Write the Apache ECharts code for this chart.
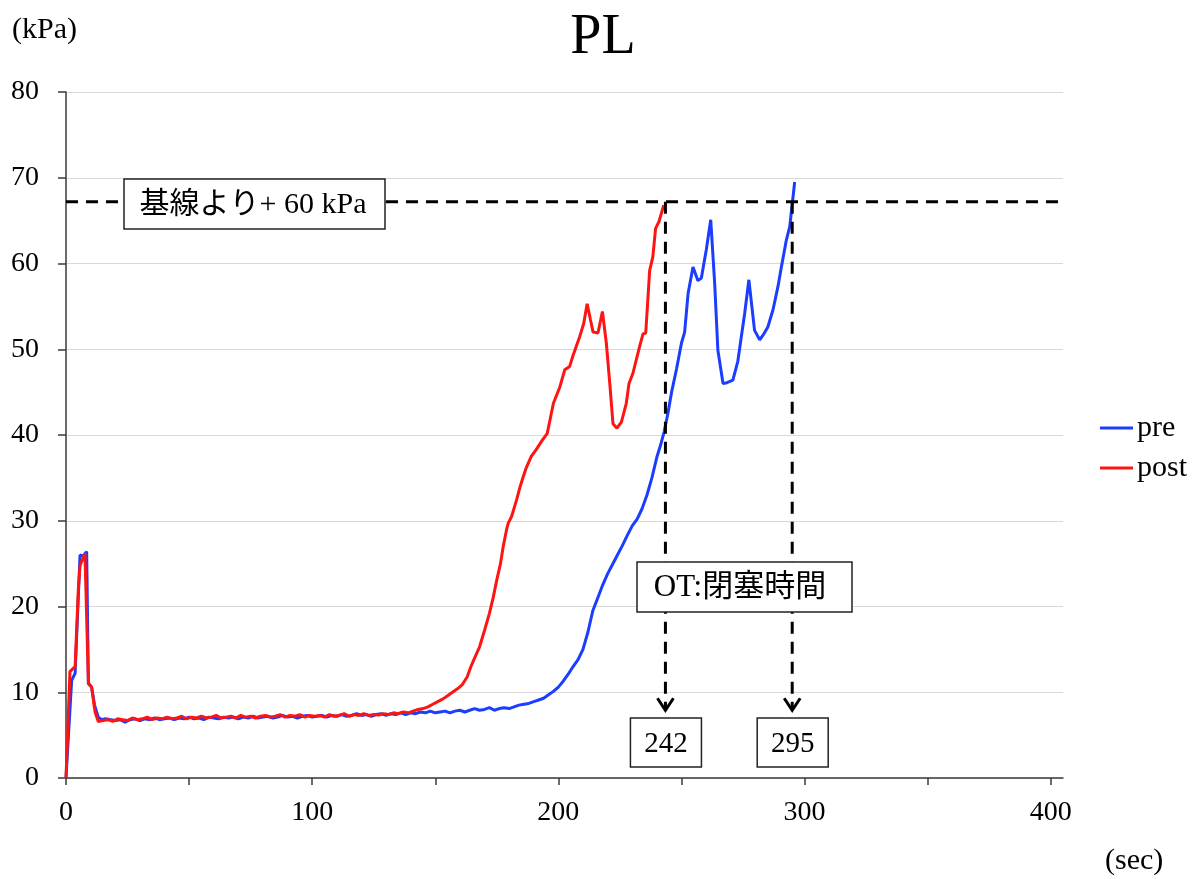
<!DOCTYPE html>
<html>
<head>
<meta charset="utf-8">
<script src="https://cdn.jsdelivr.net/npm/echarts@6/dist/echarts.min.js"></script>
<style>
html,body{margin:0;padding:0;background:#fff;}
#chart{width:1194px;height:879px;}
</style>
</head>
<body>
<div id="chart"></div>
<script>
const chartTitle = 'PL';
const seriesNames = ['pre', 'post'];
const xTickValues = [0, 50, 100, 150, 200, 250, 300, 350, 400];
const xLabelValues = [0, 100, 200, 300, 400];

const preT = [0,2.3,3.7,5.7,7,8.4,9.1,10.4,11.6,13.1,14.5,16,18,20,22,24,26,28,30,32,34,36,38,40,42,44,46,48,50,52,54,56,58,60,62,64,66,68,70,72,74,76,78,80,82,84,86,88,90,92,94,96,98,100,102,104,106,108,110,112,114,116,118,120,122,124,126,128,130,132,134,136,138,140,142,144,146,148,150,152,154,156,158,160,162,164,166,168,170,172,174,176,178,180,182,184,186,188,190,192,194,196,198,200,202,204,206,208,210,212,214,216,218,220,222,224,226,228,230,232,234,236,238,240,241.5,243,244.5,246,248,250,251.3,252.7,254.7,256.7,258.1,260.1,261.9,263.5,264.8,266.9,268.5,270.9,272.9,275.7,277.4,279.7,281.8,283.5,285.1,287.2,289.2,290.6,292.6,294,296];
const preV = [0,11.4,12.2,26,25.9,26.4,11,10.6,8.5,7.1,6.8,6.9,6.8,6.7,6.8,6.5,6.8,6.9,6.7,6.9,6.8,7.0,6.8,6.9,7.0,6.8,7.0,6.9,7.1,6.9,7.0,6.8,7.1,7.0,6.9,7.1,7.0,7.1,6.9,7.1,7.0,7.2,7.0,7.1,7.2,7.0,7.1,7.3,7.1,7.2,7.0,7.2,7.3,7.1,7.2,7.3,7.1,7.3,7.2,7.4,7.2,7.3,7.5,7.3,7.4,7.2,7.4,7.5,7.3,7.5,7.4,7.6,7.4,7.6,7.5,7.7,7.6,7.8,7.6,7.7,7.8,7.6,7.8,7.9,7.7,7.9,8.1,7.9,8.0,8.2,7.9,8.1,8.2,8.1,8.3,8.5,8.6,8.7,8.9,9.1,9.3,9.7,10.1,10.6,11.3,12.1,13.0,13.8,15.0,17.0,19.5,21.0,22.5,23.8,24.9,26.0,27.1,28.3,29.4,30.2,31.4,33.0,35.0,37.4,38.8,40.4,42.5,45.0,47.7,50.7,52.0,56.5,59.6,58.0,58.3,61.6,65.1,57.7,49.9,46.0,46.1,46.4,48.6,54.2,58.1,52.2,51.1,51.8,52.6,54.6,57.3,59.6,62.7,64.3,69.5];

const postT = [0,1.6,3.7,5,5.7,7.7,8.4,9.1,10.4,11.8,13.1,15,17,19,21,23,25,27,29,31,33,35,37,39,41,43,45,47,49,51,53,55,57,59,61,63,65,67,69,71,73,75,77,79,81,83,85,87,89,91,93,95,97,99,101,103,105,107,109,111,113,115,117,119,121,123,125,127,129,131,133,135,137,139,141,143,145,147,149,151,153,155,157,159,161,163,164.5,166,168,170,172,173.5,175,176.5,177.6,179,179.6,181,183,184.5,185.7,187,189,191,193.5,195.5,198,200.6,202.6,204.6,206,208.7,210.3,211.7,213,214.1,216.1,217.9,219.5,220.9,222.2,223.8,225.6,227.6,228.7,230.3,233,234.4,235.5,237.1,238.4,239.5,240.9,242.8];
const postV = [0,12.4,13.0,21.9,24.8,26.2,26.0,11.1,10.6,7.7,6.6,6.7,6.8,6.6,6.9,6.8,6.7,7.0,6.8,6.9,7.1,6.8,7.0,6.9,7.1,6.9,7.0,7.2,6.9,7.1,7.0,7.2,7.0,7.1,7.3,7.0,7.1,7.2,7.0,7.3,7.1,7.2,7.0,7.2,7.3,7.1,7.2,7.4,7.1,7.3,7.2,7.4,7.1,7.3,7.2,7.3,7.1,7.4,7.2,7.3,7.5,7.2,7.4,7.3,7.5,7.3,7.4,7.35,7.5,7.4,7.6,7.5,7.7,7.6,7.8,8.0,8.1,8.3,8.6,8.9,9.2,9.6,10.0,10.4,10.9,11.8,13.0,14.0,15.3,17.2,19.2,21.0,23.1,25.0,27.0,29.0,29.7,30.5,32.4,34.0,35.1,36.2,37.5,38.3,39.4,40.2,43.7,45.6,47.6,48.0,49.3,51.5,53.0,55.3,53.5,52.0,51.9,54.4,50.7,46.0,41.3,40.8,41.5,43.7,46.0,47.2,50.3,51.8,51.9,59.2,60.8,64.1,64.9,66.8];

const thresholdValue = 67.2;
const thresholdLabel = '基線より+ 60 kPa';
const otLabel = 'OT:閉塞時間';
const otLineX = [243.5, 295];
const otTexts = ['242', '295'];
const arrowTipValue = 7.9;

const FONT = "'Liberation Serif', 'Noto Sans CJK JP', serif";
const zip = (t, v) => t.map((x, i) => [x, v[i]]);

const chart = echarts.init(document.getElementById('chart'), null, {renderer: 'canvas'});
const axisColor = '#3a3a3a';

chart.setOption({
  animation: false,
  backgroundColor: '#fff',
  grid: {left: 66, top: 92, width: 997, height: 686, containLabel: false},
  legend: {
    orient: 'vertical', left: 1100, top: 413, padding: 0,
    icon: 'rect', itemWidth: 33, itemHeight: 3, itemGap: 10,
    textStyle: {fontFamily: FONT, fontSize: 30, color: '#000', lineHeight: 30, padding: [0, 0, 0, -1]},
    data: seriesNames
  },
  xAxis: {
    type: 'value', min: 0, max: 405,
    axisLine: {show: true, lineStyle: {color: axisColor, width: 1.5}},
    axisTick: {show: true, length: 7, lineStyle: {color: axisColor, width: 1.5}, customValues: xTickValues},
    axisLabel: {margin: 21, fontFamily: FONT, fontSize: 28, color: '#000', customValues: xLabelValues},
    splitLine: {show: false}
  },
  yAxis: {
    type: 'value', min: 0, max: 80, interval: 10,
    axisLine: {show: true, lineStyle: {color: axisColor, width: 1.5}},
    axisTick: {show: true, length: 8, lineStyle: {color: axisColor, width: 1.5}},
    axisLabel: {margin: 27, fontFamily: FONT, fontSize: 28, color: '#000'},
    splitLine: {show: true, lineStyle: {color: '#d9d9d9', width: 1.2}}
  },
  series: [
    {name: seriesNames[0], type: 'line', data: zip(preT, preV), symbol: 'none', showSymbol: false,
     lineStyle: {color: '#1a3dff', width: 3}, itemStyle: {color: '#1a3dff'}, z: 3},
    {name: seriesNames[1], type: 'line', data: zip(postT, postV), symbol: 'none', showSymbol: false,
     lineStyle: {color: '#ff1414', width: 3}, itemStyle: {color: '#ff1414'}, z: 4}
  ]
});

const px = v => chart.convertToPixel({xAxisIndex: 0}, v);
const py = v => chart.convertToPixel({yAxisIndex: 0}, v);

const dash = {stroke: '#000', lineWidth: 3, lineDash: [12, 8]};
const yThr = py(thresholdValue);
const tipY = py(arrowTipValue);
const g = [];

g.push({type: 'line', z: 10, shape: {x1: px(0), y1: yThr, x2: px(405), y2: yThr}, style: dash});
otLineX.forEach((xv, i) => {
  const x = px(xv);
  g.push({type: 'line', z: 10, shape: {x1: x, y1: yThr, x2: x, y2: tipY - 2}, style: dash});
  g.push({type: 'polyline', z: 10, shape: {points: [[x - 8, tipY - 12], [x, tipY], [x + 8, tipY - 12]]},
          style: {stroke: '#000', lineWidth: 3, fill: null}});
  g.push({type: 'rect', z: 12, shape: {x: x - 35, y: 718, width: 71, height: 49},
          style: {fill: '#fff', stroke: '#222', lineWidth: 1.5}});
  g.push({type: 'text', z: 13, x: x + 0.5, y: 744,
          style: {text: otTexts[i], font: '29px ' + FONT, fill: '#000', align: 'center', verticalAlign: 'middle'}});
});

g.push({type: 'rect', z: 12, shape: {x: 124, y: 179, width: 261, height: 50},
        style: {fill: '#fff', stroke: '#222', lineWidth: 1.5}});
g.push({type: 'text', z: 13, x: 253, y: 205,
        style: {text: thresholdLabel, font: '30px ' + FONT, fill: '#000', align: 'center', verticalAlign: 'middle'}});

g.push({type: 'rect', z: 12, shape: {x: 637, y: 562, width: 215, height: 50},
        style: {fill: '#fff', stroke: '#222', lineWidth: 1.5}});
g.push({type: 'text', z: 13, x: 740, y: 588,
        style: {text: otLabel, font: '31px ' + FONT, fill: '#000', align: 'center', verticalAlign: 'middle'}});

g.push({type: 'text', z: 13, x: 603, y: 38,
        style: {text: chartTitle, font: '56px ' + FONT, fill: '#000', align: 'center', verticalAlign: 'middle'}});
g.push({type: 'text', z: 13, x: 12, y: 30,
        style: {text: '(kPa)', font: '30px ' + FONT, fill: '#000', align: 'left', verticalAlign: 'middle'}});
g.push({type: 'text', z: 13, x: 1105, y: 861,
        style: {text: '(sec)', font: '30px ' + FONT, fill: '#000', align: 'left', verticalAlign: 'middle'}});

chart.setOption({graphic: {elements: g}});
</script>
</body>
</html>
